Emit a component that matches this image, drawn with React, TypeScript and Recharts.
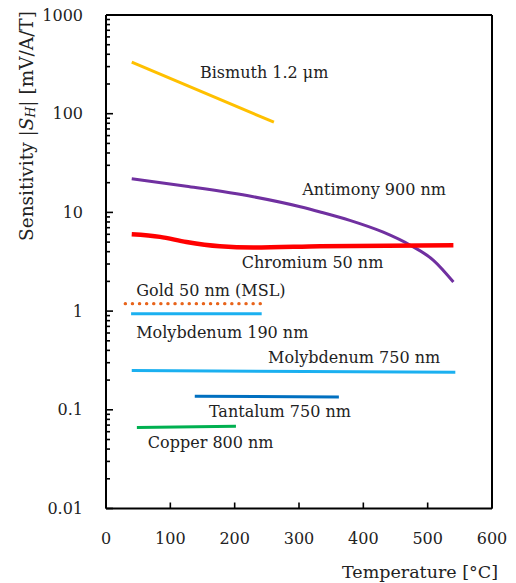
import React from 'react';
import { LineChart, Line, XAxis, YAxis, ReferenceLine, ReferenceDot } from 'recharts';

const FONT = '"DejaVu Serif", serif';
const FONT_SIZE = 16;
const TITLE_SIZE = 17.5;

// Hall sensitivity [mV/A/T] against temperature [°C], one array per film
const bismuth = [
  { t: 40, v: 333 },
  { t: 261, v: 82 },
];
const antimony = [
  { t: 40, v: 21.9 },
  { t: 125, v: 18.4 },
  { t: 229, v: 14.4 },
  { t: 302, v: 11.4 },
  { t: 333, v: 10.1 },
  { t: 379, v: 8.3 },
  { t: 431, v: 6.3 },
  { t: 473, v: 4.65 },
  { t: 509, v: 3.27 },
  { t: 540, v: 1.97 },
];
const chromium = [
  { t: 40, v: 6.0 },
  { t: 84, v: 5.65 },
  { t: 125, v: 5.02 },
  { t: 177, v: 4.54 },
  { t: 229, v: 4.4 },
  { t: 333, v: 4.54 },
  { t: 540, v: 4.65 },
];
const gold = [
  { t: 30, v: 1.19 },
  { t: 244, v: 1.19 },
];
const molybdenum190 = [
  { t: 39, v: 0.94 },
  { t: 242, v: 0.94 },
];
const molybdenum750 = [
  { t: 40, v: 0.25 },
  { t: 543, v: 0.24 },
];
const tantalum = [
  { t: 138, v: 0.137 },
  { t: 362, v: 0.135 },
];
const copper = [
  { t: 48, v: 0.066 },
  { t: 202, v: 0.068 },
];

// text annotations, anchored at their left edge in data coordinates
const annotations = [
  { text: 'Bismuth 1.2 μm', t: 146, v: 264 },
  { text: 'Antimony 900 nm', t: 305, v: 17.2 },
  { text: 'Chromium 50 nm', t: 211, v: 3.13 },
  { text: 'Gold 50 nm (MSL)', t: 47, v: 1.63 },
  { text: 'Molybdenum 190 nm', t: 47, v: 0.614 },
  { text: 'Molybdenum 750 nm', t: 252, v: 0.34 },
  { text: 'Tantalum 750 nm', t: 160, v: 0.095 },
  { text: 'Copper 800 nm', t: 65, v: 0.047 },
];

const xTicks = [0, 100, 200, 300, 400, 500, 600];
const yMajor = [0.01, 0.1, 1, 10, 100, 1000];

// log axis: labelled decades plus unlabelled 2..9 minor ticks
const yTicks: number[] = [];
yMajor.forEach((d, i) => {
  yTicks.push(d);
  if (i < yMajor.length - 1) {
    for (let m = 2; m <= 9; m++) yTicks.push(+(m * d).toPrecision(3));
  }
});
const majorSet = new Set(yMajor);

const YTick = (props: any) => {
  const { x, y, payload } = props;
  const major = majorSet.has(payload.value);
  return (
    <g>
      <line x1={x} x2={x + (major ? 7 : 4)} y1={y} y2={y} stroke="#000" strokeWidth={1.6} />
      {major && (
        <text
          x={x - 23}
          y={y}
          textAnchor="end"
          dominantBaseline="central"
          fontFamily={FONT}
          fontSize={FONT_SIZE}
          fill="#222"
        >
          {String(payload.value)}
        </text>
      )}
    </g>
  );
};

const XTick = (props: any) => {
  const { x, y, payload } = props;
  return (
    <g>
      <line x1={x} x2={x} y1={y} y2={y - 6} stroke="#000" strokeWidth={1.6} />
      <text
        x={x}
        y={y + 29.5}
        textAnchor="middle"
        dominantBaseline="central"
        fontFamily={FONT}
        fontSize={FONT_SIZE}
        fill="#222"
      >
        {payload.value}
      </text>
    </g>
  );
};

const YTitle = () => (
  <text
    x={26}
    y={126}
    transform="rotate(-90, 26, 126)"
    textAnchor="middle"
    dominantBaseline="central"
    fontFamily={FONT}
    fontSize={18.5}
    fill="#222"
  >
    Sensitivity |<tspan fontStyle="italic">S</tspan>
    <tspan fontStyle="italic" fontSize={12.5} dy={4}>H</tspan>
    <tspan dy={-4}>| [mV/A/T]</tspan>
  </text>
);

const XTitle = () => (
  <text
    x={498}
    y={572}
    textAnchor="end"
    dominantBaseline="central"
    fontFamily={FONT}
    fontSize={TITLE_SIZE}
    fill="#222"
  >
    Temperature [°C]
  </text>
);

const series = [
  { name: 'bismuth', data: bismuth, color: '#FFC000', width: 3, type: 'linear' },
  { name: 'antimony', data: antimony, color: '#7030A0', width: 3, type: 'monotone' },
  { name: 'chromium', data: chromium, color: '#FF0000', width: 4.5, type: 'monotone' },
  { name: 'molybdenum190', data: molybdenum190, color: '#1BB0F0', width: 3, type: 'linear' },
  { name: 'molybdenum750', data: molybdenum750, color: '#1BB0F0', width: 3, type: 'linear' },
  { name: 'tantalum', data: tantalum, color: '#0070C0', width: 3, type: 'linear' },
  { name: 'copper', data: copper, color: '#00B050', width: 3, type: 'linear' },
];

export default function App() {
  return (
    <div style={{ position: 'absolute', left: 0, top: 0, background: '#fff' }}>
      <LineChart width={516} height={583} margin={{ top: 15, right: 24, bottom: 0, left: 0 }}>
        <XAxis
          dataKey="t"
          type="number"
          domain={[0, 600]}
          ticks={xTicks}
          interval={0}
          tickSize={0}
          tickMargin={0}
          tickLine={false}
          tick={<XTick />}
          height={74.5}
          axisLine={{ stroke: '#000', strokeWidth: 2 }}
          label={<XTitle />}
        />
        <YAxis
          dataKey="v"
          type="number"
          scale="log"
          domain={[0.01, 1000]}
          allowDataOverflow
          ticks={yTicks}
          interval={0}
          tickSize={0}
          tickMargin={0}
          tickLine={false}
          tick={<YTick />}
          width={106}
          axisLine={{ stroke: '#000', strokeWidth: 2 }}
          label={<YTitle />}
        />
        <ReferenceLine y={1000} stroke="#000" strokeWidth={2} />
        <ReferenceLine x={600} stroke="#000" strokeWidth={2} />
        {series.map((s) => (
          <Line
            key={s.name}
            data={s.data}
            dataKey="v"
            type={s.type as any}
            stroke={s.color}
            strokeWidth={s.width}
            dot={false}
            activeDot={false}
            isAnimationActive={false}
          />
        ))}
        <Line
          data={gold}
          dataKey="v"
          type="linear"
          stroke="#E8641B"
          strokeWidth={3.4}
          strokeDasharray="0.1 7"
          strokeLinecap="round"
          dot={false}
          activeDot={false}
          isAnimationActive={false}
        />
        {annotations.map((a) => (
          <ReferenceDot
            key={a.text}
            x={a.t}
            y={a.v}
            r={0}
            shape={(p: any) => (
              <text
                x={p.cx}
                y={p.cy}
                dominantBaseline="central"
                fontFamily={FONT}
                fontSize={FONT_SIZE}
                fill="#222"
              >
                {a.text}
              </text>
            )}
          />
        ))}
      </LineChart>
    </div>
  );
}
